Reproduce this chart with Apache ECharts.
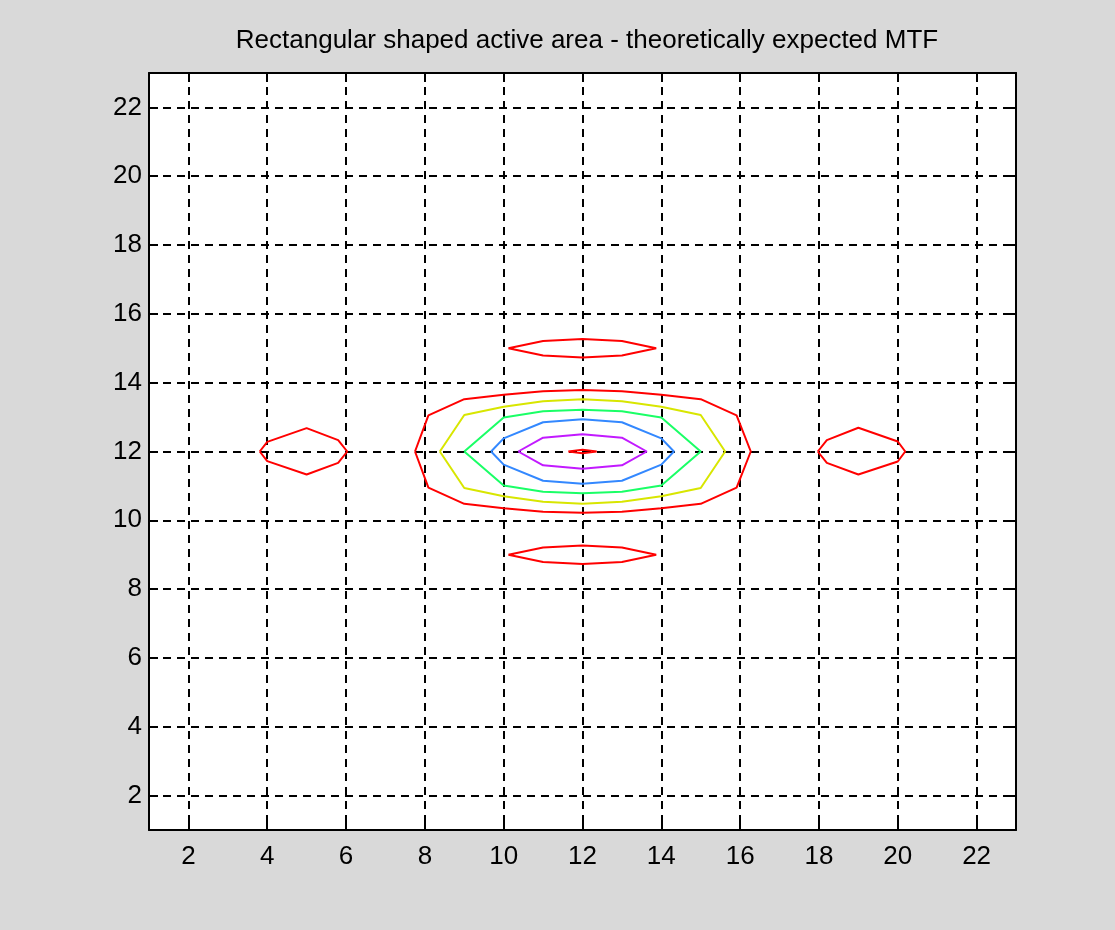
<!DOCTYPE html>
<html><head><meta charset="utf-8">
<script src="https://cdn.jsdelivr.net/npm/echarts@6/dist/echarts.min.js"></script>
<style>html,body{margin:0;padding:0;background:#d9d9d9}#c{width:1115px;height:930px}</style>
</head><body><div id="c"></div>
<script>
const titleText = 'Rectangular shaped active area - theoretically expected MTF';
const xTicks = [2,4,6,8,10,12,14,16,18,20,22];
const yTicks = [2,4,6,8,10,12,14,16,18,20,22];

// contour polylines: [x, y]
const level1Main = [[7.75,12],[8.09,13.05],[9,13.52],[10,13.65],[11,13.75],[12,13.79],[13,13.75],[14,13.65],[15,13.52],[15.91,13.05],[16.27,12],[15.91,10.95],[15,10.48],[14,10.35],[13,10.25],[12,10.22],[11,10.25],[10,10.35],[9,10.48],[8.09,10.95],[7.75,12]];
const level1Top = [[10.12,15],[11,15.21],[12,15.27],[13,15.21],[13.87,15],[13,14.79],[12,14.73],[11,14.79],[10.12,15]];
const level1Bottom = [[10.12,9],[11,9.21],[12,9.27],[13,9.21],[13.87,9],[13,8.79],[12,8.73],[11,8.79],[10.12,9]];
const level1Left = [[3.81,12],[4,12.28],[5,12.68],[5.8,12.33],[6.03,12],[5.8,11.67],[5,11.33],[4,11.72],[3.81,12]];
const level1Right = [[17.97,12],[18.2,12.33],[19,12.69],[20,12.29],[20.19,12],[20,11.71],[19,11.33],[18.2,11.67],[17.97,12]];
const level2 = [[8.38,12],[9,13.06],[10,13.3],[11,13.46],[12,13.52],[13,13.46],[14,13.3],[15,13.06],[15.62,12],[15,10.94],[14,10.7],[13,10.54],[12,10.48],[11,10.54],[10,10.7],[9,10.94],[8.38,12]];
const level3 = [[9,12],[10,12.99],[11,13.17],[12,13.21],[13,13.17],[14,12.99],[15,12],[14,11.01],[13,10.83],[12,10.79],[11,10.83],[10,11.01],[9,12]];
const level4 = [[9.68,12],[10,12.38],[11,12.85],[12,12.94],[13,12.85],[14,12.38],[14.32,12],[14,11.62],[13,11.15],[12,11.06],[11,11.15],[10,11.62],[9.68,12]];
const level5 = [[10.37,12],[11,12.4],[12,12.5],[13,12.4],[13.63,12],[13,11.6],[12,11.5],[11,11.6],[10.37,12]];
const level6 = [[11.64,12],[12,12.05],[12.36,12],[12,11.95],[11.64,12]];

const levelColors = ['#ff0000','#d8e600','#1aff66','#3388ff','#c21aff','#ff0000'];

const chart = echarts.init(document.getElementById('c'), null, {renderer:'canvas'});
const font = 'Liberation Sans, Arial, sans-serif';
function mkX(pos, labels){
  return {type:'value', min:1, max:23, position:pos,
    axisLine:{show:true, onZero:false, lineStyle:{color:'#000', width:2}},
    axisTick:{show:true, inside:true, length:9, customValues:xTicks, lineStyle:{color:'#000', width:2}},
    axisLabel:{show:labels, customValues:xTicks, color:'#000', fontSize:26, fontFamily:font, margin:14},
    splitLine:{show:labels, lineStyle:{color:'#000', width:2, type:[8,6]}}};
}
function mkY(pos, labels){
  return {type:'value', min:1, max:23, position:pos,
    axisLine:{show:true, onZero:false, lineStyle:{color:'#000', width:2}},
    axisTick:{show:true, inside:true, length:9, customValues:yTicks, lineStyle:{color:'#000', width:2}},
    axisLabel:{show:labels, customValues:yTicks, color:'#000', fontSize:26, fontFamily:font, margin:7},
    splitLine:{show:labels, lineStyle:{color:'#000', width:2, type:[8,6]}}};
}
function ser(data, color){
  return {type:'line', data:data, xAxisIndex:0, yAxisIndex:0, showSymbol:false, symbol:'none',
    lineStyle:{color:color, width:2}, silent:true, z:5};
}
chart.setOption({
  animation:false,
  backgroundColor:'#d9d9d9',
  title:{text:titleText, left:582, top:23, textAlign:'center',
    textStyle:{color:'#000', fontSize:26, fontWeight:'normal', fontFamily:font}},
  grid:{left:149, top:73, width:867, height:757, show:true, backgroundColor:'#ffffff', borderWidth:0},
  xAxis:[mkX('bottom', true), mkX('top', false)],
  yAxis:[mkY('left', true), mkY('right', false)],
  series:[
    ser(level1Main, levelColors[0]), ser(level1Top, levelColors[0]), ser(level1Bottom, levelColors[0]),
    ser(level1Left, levelColors[0]), ser(level1Right, levelColors[0]),
    ser(level2, levelColors[1]), ser(level3, levelColors[2]), ser(level4, levelColors[3]),
    ser(level5, levelColors[4]), ser(level6, levelColors[5])
  ]
});
</script></body></html>
